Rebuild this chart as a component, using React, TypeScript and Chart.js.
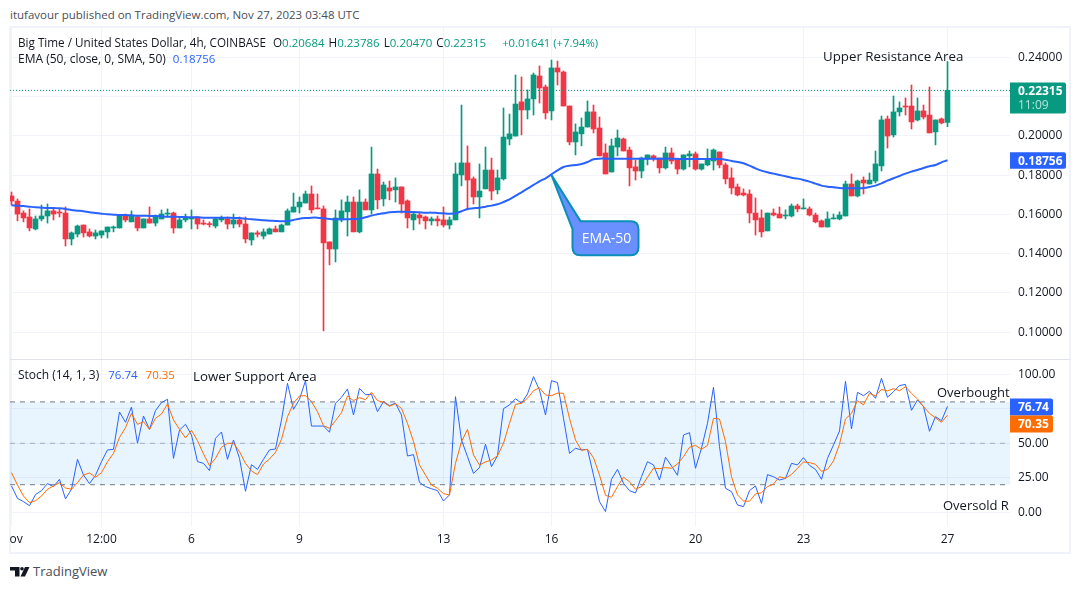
import { useEffect, useRef } from "react";
import { Chart, registerables } from "chart.js";

Chart.register(...registerables);

const FONT = "'Open Sans', sans-serif";
const INK = "#131722";

// x axis is the candle index, 4h bars
const xTickIdx = [0, 15, 30, 48, 72, 90, 114, 132, 156];
const xTickLabels = ["Nov", "12:00", "6", "9", "13", "16", "20", "23", "27"];
const priceTicks = [0.1, 0.12, 0.14, 0.16, 0.18, 0.2, 0.22, 0.24];
const stochTicks = [0, 25, 50, 75, 100];

const opens = [
  0.1694, 0.1668, 0.1607, 0.1587, 0.1526, 0.1577, 0.1592, 0.1618, 0.1612, 0.1607,
  0.1475, 0.15, 0.1546, 0.1511, 0.149, 0.1495, 0.1511, 0.1531, 0.1531, 0.1592,
  0.1562, 0.1587, 0.1531, 0.1577, 0.1556, 0.1577, 0.1602, 0.1607, 0.1531, 0.1572,
  0.1577, 0.1587, 0.1556, 0.1553, 0.1541, 0.1572, 0.1577, 0.1551, 0.1572, 0.1551,
  0.147, 0.1506, 0.149, 0.15, 0.1526, 0.1511, 0.1546, 0.1612, 0.1638, 0.1658,
  0.1704, 0.1633, 0.1628, 0.146, 0.1424, 0.1572, 0.1613, 0.1663, 0.1511, 0.1663,
  0.1623, 0.1806, 0.1679, 0.1735, 0.1725, 0.174, 0.1669, 0.1572, 0.1597, 0.1587,
  0.1567, 0.1577, 0.1572, 0.1546, 0.1572, 0.1801, 0.1862, 0.1781, 0.1689, 0.173,
  0.1826, 0.1725, 0.1781, 0.1984, 0.1999, 0.2173, 0.2132, 0.2188, 0.2305, 0.2249,
  0.2127, 0.2346, 0.2325, 0.2152, 0.1969, 0.201, 0.2045, 0.2122, 0.204, 0.1913,
  0.1816, 0.1943, 0.1984, 0.1928, 0.1842, 0.1821, 0.1882, 0.1898, 0.1887, 0.1837,
  0.1913, 0.1882, 0.1831, 0.1898, 0.1908, 0.1831, 0.1852, 0.1872, 0.1918, 0.1852,
  0.1786, 0.174, 0.1709, 0.1704, 0.1607, 0.1582, 0.1516, 0.1607, 0.1602, 0.1592,
  0.1592, 0.1643, 0.1628, 0.1628, 0.1597, 0.1567, 0.1536, 0.1577, 0.1577, 0.1592,
  0.1755, 0.1694, 0.1775, 0.1755, 0.177, 0.1847, 0.2086, 0.2005, 0.2122, 0.2152,
  0.2152, 0.2081, 0.2127, 0.2106, 0.202, 0.2086, 0.20684,
];
const highs = [
  0.1714, 0.1679, 0.1618, 0.1628, 0.1592, 0.1648, 0.1653, 0.1633, 0.1628, 0.1638,
  0.1511, 0.1546, 0.1546, 0.1526, 0.1521, 0.1516, 0.1536, 0.1541, 0.1597, 0.1602,
  0.1618, 0.1592, 0.1577, 0.1638, 0.1597, 0.1623, 0.1628, 0.1612, 0.1582, 0.1602,
  0.1623, 0.1587, 0.1572, 0.1562, 0.1582, 0.1592, 0.1587, 0.1602, 0.1587, 0.1587,
  0.1506, 0.1516, 0.1526, 0.1531, 0.1541, 0.1551, 0.1628, 0.1709, 0.1689, 0.1719,
  0.1745, 0.1704, 0.1643, 0.146, 0.1623, 0.1674, 0.1694, 0.1689, 0.1725, 0.1679,
  0.1943, 0.1831, 0.1765, 0.177, 0.1786, 0.174, 0.1674, 0.1606, 0.1607, 0.1592,
  0.1587, 0.1592, 0.1638, 0.1587, 0.1862, 0.2157, 0.1949, 0.1791, 0.1857, 0.1943,
  0.1887, 0.1826, 0.2142, 0.2111, 0.231, 0.23, 0.2234, 0.232, 0.2356, 0.2259,
  0.2386, 0.2381, 0.233, 0.2152, 0.2061, 0.2091, 0.2178, 0.2157, 0.2096, 0.1959,
  0.1984, 0.203, 0.1989, 0.1943, 0.1877, 0.1892, 0.1903, 0.1903, 0.1887, 0.1943,
  0.1938, 0.1887, 0.1903, 0.1923, 0.1918, 0.1857, 0.1933, 0.1933, 0.1918, 0.1862,
  0.1837, 0.1755, 0.173, 0.1725, 0.1684, 0.1623, 0.1607, 0.1628, 0.1638, 0.1623,
  0.1653, 0.1653, 0.1679, 0.1638, 0.1607, 0.1572, 0.1613, 0.1602, 0.1613, 0.177,
  0.1806, 0.1775, 0.1791, 0.1811, 0.1923, 0.2101, 0.2101, 0.2203, 0.2173, 0.2193,
  0.2259, 0.2193, 0.2157, 0.2249, 0.2081, 0.2091, 0.23786,
];
const lows = [
  0.1648, 0.1567, 0.1562, 0.1516, 0.1521, 0.1567, 0.1556, 0.1572, 0.1587, 0.1439,
  0.1444, 0.1485, 0.1485, 0.1485, 0.1475, 0.148, 0.148, 0.1511, 0.1531, 0.1562,
  0.1562, 0.1516, 0.1531, 0.1556, 0.1541, 0.1577, 0.1587, 0.1505, 0.1531, 0.1562,
  0.1526, 0.1526, 0.1546, 0.1536, 0.1531, 0.1562, 0.1526, 0.1531, 0.1536, 0.1455,
  0.1444, 0.1485, 0.1475, 0.15, 0.1511, 0.1511, 0.1546, 0.1612, 0.1607, 0.1658,
  0.1607, 0.1628, 0.1007, 0.1343, 0.1358, 0.1562, 0.149, 0.1511, 0.1506, 0.1623,
  0.1602, 0.1628, 0.1643, 0.1674, 0.1663, 0.1607, 0.1531, 0.1521, 0.1551, 0.1526,
  0.1546, 0.1541, 0.1536, 0.1526, 0.1572, 0.1745, 0.1623, 0.1653, 0.1582, 0.173,
  0.1674, 0.1704, 0.1775, 0.1954, 0.1999, 0.2005, 0.2086, 0.2106, 0.2167, 0.2086,
  0.2081, 0.2259, 0.2152, 0.1954, 0.1903, 0.1949, 0.2045, 0.2015, 0.1898, 0.1806,
  0.1816, 0.1898, 0.1923, 0.1745, 0.1775, 0.1786, 0.1852, 0.1872, 0.1811, 0.1831,
  0.1857, 0.1806, 0.1826, 0.1842, 0.1826, 0.1826, 0.1847, 0.1826, 0.1837, 0.1755,
  0.1704, 0.1694, 0.1694, 0.1557, 0.1495, 0.1485, 0.1516, 0.1592, 0.1582, 0.1577,
  0.1587, 0.1613, 0.1628, 0.1592, 0.1557, 0.1536, 0.1536, 0.1577, 0.1572, 0.1592,
  0.1694, 0.1689, 0.1704, 0.1755, 0.176, 0.1821, 0.1938, 0.1994, 0.2101, 0.2106,
  0.2035, 0.2076, 0.2086, 0.2015, 0.1954, 0.2061, 0.2047,
];
const closes = [
  0.1668, 0.1602, 0.1582, 0.1531, 0.1577, 0.1592, 0.1618, 0.1602, 0.1607, 0.1475,
  0.1506, 0.1541, 0.1506, 0.149, 0.1506, 0.1516, 0.1536, 0.1536, 0.1592, 0.1572,
  0.1592, 0.1531, 0.1577, 0.1556, 0.1592, 0.1602, 0.1607, 0.1531, 0.1572, 0.1582,
  0.1582, 0.1551, 0.1551, 0.1548, 0.1577, 0.1582, 0.1551, 0.1572, 0.1551, 0.1475,
  0.1506, 0.1499, 0.1511, 0.1526, 0.1511, 0.1546, 0.1618, 0.1638, 0.1663, 0.1704,
  0.1623, 0.1628, 0.1455, 0.1424, 0.1582, 0.1618, 0.1663, 0.1511, 0.1663, 0.1623,
  0.1806, 0.1674, 0.175, 0.1719, 0.174, 0.1653, 0.1582, 0.1602, 0.1582, 0.1567,
  0.1577, 0.1567, 0.1546, 0.1572, 0.1806, 0.1862, 0.1775, 0.1689, 0.1719, 0.1826,
  0.1719, 0.1786, 0.1994, 0.201, 0.2162, 0.2132, 0.2188, 0.231, 0.2244, 0.2117,
  0.2346, 0.2325, 0.2152, 0.1969, 0.202, 0.2045, 0.2122, 0.2035, 0.1898, 0.1806,
  0.1949, 0.1989, 0.1923, 0.1837, 0.1821, 0.1887, 0.1903, 0.1887, 0.1837, 0.1913,
  0.1872, 0.1831, 0.1903, 0.1908, 0.1831, 0.1857, 0.1877, 0.1928, 0.1852, 0.1781,
  0.1735, 0.1699, 0.1699, 0.1607, 0.1572, 0.1511, 0.1607, 0.1597, 0.1582, 0.1597,
  0.1643, 0.1628, 0.1633, 0.1597, 0.1562, 0.1536, 0.1577, 0.1582, 0.1597, 0.1755,
  0.1694, 0.177, 0.176, 0.1775, 0.1857, 0.2081, 0.1999, 0.2122, 0.2142, 0.2147,
  0.2071, 0.2127, 0.2096, 0.2015, 0.2081, 0.2066, 0.22315,
];
const ema50 = [
  0.16463, 0.16446, 0.16429, 0.16395, 0.16361, 0.16344, 0.16327, 0.16327, 0.1631, 0.16277,
  0.16226, 0.16192, 0.16158, 0.16107, 0.16073, 0.16039, 0.16005, 0.15988, 0.15971, 0.15971,
  0.15954, 0.15937, 0.15937, 0.1592, 0.1592, 0.15903, 0.15886, 0.15886, 0.15869, 0.15869,
  0.15852, 0.15852, 0.15835, 0.15835, 0.15835, 0.15835, 0.15835, 0.15818, 0.15818, 0.15784,
  0.1575, 0.15733, 0.157, 0.15683, 0.15666, 0.15649, 0.15666, 0.15717, 0.15784, 0.15818,
  0.15835, 0.15835, 0.15801, 0.15767, 0.1575, 0.15751, 0.15751, 0.15768, 0.15785, 0.15853,
  0.15938, 0.16006, 0.16057, 0.16108, 0.16125, 0.16142, 0.16125, 0.16125, 0.16108, 0.16091,
  0.16091, 0.16074, 0.16057, 0.1604, 0.16057, 0.16159, 0.16277, 0.16311, 0.16345, 0.16396,
  0.16447, 0.16515, 0.16634, 0.16769, 0.16939, 0.17126, 0.17313, 0.17499, 0.17686, 0.17839,
  0.18042, 0.18246, 0.18416, 0.18483, 0.18517, 0.18568, 0.1867, 0.18806, 0.1884, 0.1884,
  0.1884, 0.1884, 0.1884, 0.1884, 0.1884, 0.1884, 0.1884, 0.1884, 0.1884, 0.1884,
  0.1884, 0.18823, 0.18823, 0.18823, 0.18823, 0.18823, 0.18823, 0.18823, 0.18823, 0.18789,
  0.18721, 0.1867, 0.18602, 0.18483, 0.18348, 0.18229, 0.18144, 0.18076, 0.18008, 0.1794,
  0.17872, 0.17822, 0.17754, 0.17669, 0.17567, 0.17465, 0.17414, 0.1738, 0.17346, 0.17329,
  0.17329, 0.17329, 0.17346, 0.17397, 0.17465, 0.17584, 0.1772, 0.17839, 0.17957, 0.18076,
  0.18178, 0.18263, 0.18365, 0.1845, 0.18517, 0.18653, 0.18756,
];
const stochK = [
  19.1, 10.1, 7.7, 4.8, 12.8, 15.7, 20.8, 18.6, 23.9, 9.7,
  16.7, 38.4, 27.0, 20.8, 26.8, 36.7, 45.2, 45.6, 72.7, 65.2,
  76.3, 50.0, 69.8, 60.1, 73.7, 79.5, 81.9, 39.1, 59.6, 63.8,
  56.0, 36.7, 35.5, 30.2, 53.6, 58.2, 38.4, 52.4, 39.1, 15.2,
  34.5, 31.1, 38.4, 45.2, 45.9, 66.9, 93.5, 74.6, 81.9, 95.4,
  62.5, 62.5, 62.5, 58.0, 79.0, 83.3, 89.4, 70.5, 89.8, 85.2,
  85.5, 72.9, 80.2, 77.3, 79.0, 70.5, 40.8, 41.8, 21.7, 18.6,
  17.1, 15.7, 8.2, 12.6, 83.8, 52.4, 40.3, 28.2, 32.4, 49.3,
  33.1, 41.0, 75.1, 77.8, 82.3, 79.0, 85.7, 98.3, 88.6, 70.5,
  95.4, 94.0, 68.1, 42.7, 46.4, 45.2, 45.6, 27.0, 7.7, 0.5,
  23.9, 31.1, 21.0, 15.7, 14.0, 25.8, 36.7, 34.3, 23.4, 39.9,
  33.6, 26.8, 56.0, 57.7, 31.9, 46.4, 64.5, 90.6, 47.6, 17.4,
  15.0, 5.3, 4.1, 15.7, 19.1, 6.5, 27.3, 25.8, 23.4, 24.6,
  35.5, 34.3, 39.6, 34.0, 31.1, 23.9, 39.1, 48.8, 58.9, 94.9,
  60.4, 86.9, 84.5, 87.7, 82.6, 97.1, 83.3, 87.4, 91.8, 92.7,
  73.9, 81.4, 76.6, 58.7, 69.3, 66.4, 76.74,
];
const stochD = [
  28.7, 19.8, 11.8, 7.0, 8.4, 11.8, 16.7, 19.1, 21.5, 17.6,
  16.7, 21.5, 27.0, 28.5, 25.4, 28.7, 36.7, 42.7, 54.3, 61.3,
  71.7, 63.7, 65.7, 60.1, 68.1, 71.2, 78.5, 66.9, 60.1, 53.9,
  59.4, 51.9, 42.3, 33.8, 39.1, 47.1, 50.0, 50.0, 44.0, 35.5,
  29.9, 27.3, 35.0, 38.6, 43.5, 52.9, 69.3, 79.0, 84.3, 84.5,
  80.2, 72.9, 62.8, 60.9, 66.4, 72.2, 84.3, 80.9, 83.1, 81.6,
  87.0, 80.9, 79.7, 76.8, 78.7, 75.3, 64.5, 51.2, 34.3, 27.0,
  19.8, 17.4, 13.5, 12.6, 35.5, 51.2, 60.1, 41.5, 34.3, 36.5,
  37.9, 41.0, 50.0, 64.5, 78.2, 79.0, 82.6, 88.1, 90.3, 85.0,
  84.5, 86.4, 86.2, 68.1, 52.4, 44.9, 45.6, 39.6, 27.0, 12.3,
  10.9, 18.6, 25.4, 22.2, 16.7, 18.6, 25.4, 31.9, 31.6, 32.4,
  31.9, 35.0, 40.3, 47.1, 48.5, 45.6, 48.5, 68.1, 67.6, 51.2,
  25.8, 12.6, 8.2, 8.0, 13.3, 14.2, 18.6, 20.5, 25.8, 24.6,
  27.5, 31.9, 36.5, 36.0, 34.8, 29.7, 31.1, 37.2, 49.3, 67.6,
  71.7, 80.9, 77.8, 86.2, 84.3, 89.1, 87.9, 89.6, 88.1, 91.0,
  86.2, 82.1, 76.6, 71.7, 68.4, 65.2, 70.35,
];

const lastClose = 0.22315;
const lastEma = 0.18756;
const lastK = 76.74;
const lastD = 70.35;
const countdown = "11:09";

const GREEN = "#089981";
const RED = "#F23645";
const BLUE = "#2962FF";
const ORANGE = "#FF6D00";
const GRID = "#f0f3fa";

const X_MIN = -0.25;
const X_MAX = 166.4167;

const candleColors = closes.map((c, i) => (c >= opens[i] ? GREEN : RED));

function xScaleBase(showLabels: boolean) {
  return {
    type: "linear" as const,
    min: X_MIN,
    max: X_MAX,
    offset: false,
    afterBuildTicks: (s: any) => {
      s.ticks = xTickIdx.map((value) => ({ value }));
    },
    afterFit: (s: any) => {
      s.paddingLeft = 0;
      s.paddingRight = 0;
      s.height = showLabels ? 27 : 0;
    },
    border: { display: false },
    grid: { color: GRID, drawTicks: false, offset: false },
    ticks: {
      display: showLabels,
      autoSkip: false,
      maxRotation: 0,
      padding: 6,
      color: INK,
      font: { family: FONT, size: 12 },
      callback: (_v: any, i: number) => xTickLabels[i],
    },
  };
}

function yScaleBase(min: number, max: number, tickList: number[], digits: number) {
  return {
    position: "right" as const,
    min,
    max,
    afterBuildTicks: (s: any) => {
      s.ticks = tickList.map((value) => ({ value }));
    },
    afterFit: (s: any) => {
      s.width = 60;
      s.paddingTop = 0;
      s.paddingBottom = 0;
    },
    border: { display: false },
    grid: { color: GRID, drawTicks: false },
    ticks: {
      padding: 8,
      color: INK,
      font: { family: FONT, size: 12 },
      callback: (v: any) => Number(v).toFixed(digits),
    },
  };
}

function drawTag(ctx: CanvasRenderingContext2D, x: number, y: number, w: number, h: number, color: string) {
  ctx.fillStyle = color;
  ctx.beginPath();
  ctx.roundRect(x, y, w, h, [0, 2, 2, 0]);
  ctx.fill();
}

const priceOverlay = {
  id: "priceOverlay",
  afterDraw(chart: any) {
    const { ctx, chartArea, scales } = chart;
    const right = chartArea.right;

    // EMA-50 callout, tip sits on the EMA at the "16" bar
    const tipX = scales.x.getPixelForValue(90);
    const tipY = scales.y.getPixelForValue(0.18);
    const bx = tipX + 21;
    const by = tipY + 46;
    const bw = 66;
    const bh = 34;
    const r = 8;
    ctx.save();
    ctx.beginPath();
    ctx.moveTo(tipX, tipY);
    ctx.lineTo(bx + 8, by);
    ctx.lineTo(bx + bw - r, by);
    ctx.quadraticCurveTo(bx + bw, by, bx + bw, by + r);
    ctx.lineTo(bx + bw, by + bh - r);
    ctx.quadraticCurveTo(bx + bw, by + bh, bx + bw - r, by + bh);
    ctx.lineTo(bx + r, by + bh);
    ctx.quadraticCurveTo(bx, by + bh, bx, by + bh - r);
    ctx.lineTo(bx, by + 8);
    ctx.closePath();
    ctx.fillStyle = "#6a8fff";
    ctx.fill();
    ctx.lineWidth = 2;
    ctx.strokeStyle = "#0b8fb8";
    ctx.stroke();
    ctx.fillStyle = "#ffffff";
    ctx.font = `14px ${FONT}`;
    ctx.textAlign = "center";
    ctx.textBaseline = "middle";
    ctx.fillText("EMA-50", bx + bw / 2 + 1, by + bh / 2 + 1);

    // last price + countdown
    const closeY = scales.y.getPixelForValue(lastClose);
    drawTag(ctx, right, closeY - 8, 56, 31, GREEN);
    ctx.textAlign = "left";
    ctx.font = `bold 12px ${FONT}`;
    ctx.fillStyle = "#ffffff";
    ctx.fillText(lastClose.toFixed(5), right + 8, closeY + 1);
    ctx.font = `12px ${FONT}`;
    ctx.fillStyle = "#b5e3da";
    ctx.fillText(countdown, right + 8, closeY + 15);

    // EMA value
    const emaY = scales.y.getPixelForValue(lastEma);
    drawTag(ctx, right, emaY - 8, 56, 16.5, BLUE);
    ctx.font = `bold 12px ${FONT}`;
    ctx.fillStyle = "#ffffff";
    ctx.fillText(lastEma.toFixed(5), right + 8, emaY + 1);
    ctx.restore();
  },
};

const stochOverlay = {
  id: "stochOverlay",
  afterDraw(chart: any) {
    const { ctx, chartArea, scales } = chart;
    const right = chartArea.right;
    const kY = scales.y.getPixelForValue(lastK);
    ctx.save();
    // tags are stacked, the orange one is pushed below the blue one
    drawTag(ctx, right, kY - 8, 43, 17, BLUE);
    drawTag(ctx, right, kY + 9, 43, 17, ORANGE);
    ctx.font = `bold 12px ${FONT}`;
    ctx.fillStyle = "#ffffff";
    ctx.textAlign = "left";
    ctx.textBaseline = "middle";
    ctx.fillText(lastK.toFixed(2), right + 8, kY + 1);
    ctx.fillText(lastD.toFixed(2), right + 8, kY + 18);
    ctx.restore();
  },
};

const labelStyle = (left: number, top: number, size = 13, color = INK): React.CSSProperties => ({
  position: "absolute",
  left,
  top,
  fontSize: size,
  lineHeight: "16px",
  color,
  whiteSpace: "nowrap",
});

const valueStyle = (gap: number, color: string): React.CSSProperties => ({ marginLeft: gap, color, fontSize: 11.5 });

export default function App() {
  const priceRef = useRef<HTMLCanvasElement | null>(null);
  const stochRef = useRef<HTMLCanvasElement | null>(null);

  useEffect(() => {
    if (!priceRef.current || !stochRef.current) return;

    const price = new Chart(priceRef.current, {
      type: "bar",
      data: {
        datasets: [
          {
            type: "line",
            label: "EMA 50",
            data: ema50.map((y, x) => ({ x, y })),
            borderColor: BLUE,
            borderWidth: 2,
            pointRadius: 0,
            tension: 0.3,
            order: 0,
          },
          {
            type: "line",
            label: "Last",
            data: [
              { x: X_MIN, y: lastClose },
              { x: X_MAX, y: lastClose },
            ],
            borderColor: GREEN,
            borderWidth: 1,
            borderDash: [1, 2],
            pointRadius: 0,
            order: 1,
          },
          {
            label: "Body",
            data: opens.map((o, x) => ({ x, y: [Math.min(o, closes[x]), Math.max(o, closes[x])] })),
            backgroundColor: candleColors,
            barThickness: 5,
            grouped: false,
            minBarLength: 1,
            order: 2,
          },
          {
            label: "Wick",
            data: lows.map((l, x) => ({ x, y: [l, highs[x]] })),
            backgroundColor: candleColors,
            barThickness: 1,
            grouped: false,
            order: 3,
          },
        ],
      } as any,
      options: {
        animation: false,
        responsive: false,
        events: [],
        layout: { padding: 0 },
        plugins: { legend: { display: false }, tooltip: { enabled: false } },
        scales: {
          x: xScaleBase(false),
          y: yScaleBase(0.08638, 0.25492, priceTicks, 5),
        },
      } as any,
      plugins: [priceOverlay],
    });

    const stoch = new Chart(stochRef.current, {
      type: "line",
      data: {
        datasets: [
          {
            label: "%K",
            data: stochK.map((y, x) => ({ x, y })),
            borderColor: BLUE,
            borderWidth: 1,
            pointRadius: 0,
            order: 1,
          },
          {
            label: "%D",
            data: stochD.map((y, x) => ({ x, y })),
            borderColor: ORANGE,
            borderWidth: 1,
            pointRadius: 0,
            order: 0,
          },
          {
            label: "Upper band",
            data: [
              { x: X_MIN, y: 80 },
              { x: X_MAX, y: 80 },
            ],
            borderColor: "#787B86",
            borderWidth: 1,
            borderDash: [5, 5],
            pointRadius: 0,
            fill: { value: 20 },
            backgroundColor: "rgba(33,150,243,0.1)",
            order: 3,
          },
          {
            label: "Middle band",
            data: [
              { x: X_MIN, y: 50 },
              { x: X_MAX, y: 50 },
            ],
            borderColor: "rgba(120,123,134,0.55)",
            borderWidth: 1,
            borderDash: [5, 5],
            pointRadius: 0,
            order: 3,
          },
          {
            label: "Lower band",
            data: [
              { x: X_MIN, y: 20 },
              { x: X_MAX, y: 20 },
            ],
            borderColor: "#787B86",
            borderWidth: 1,
            borderDash: [5, 5],
            pointRadius: 0,
            order: 3,
          },
        ],
      } as any,
      options: {
        animation: false,
        responsive: false,
        events: [],
        layout: { padding: 0 },
        plugins: { legend: { display: false }, tooltip: { enabled: false } },
        scales: {
          x: xScaleBase(true),
          y: yScaleBase(-9.93, 110.36, stochTicks, 2),
        },
      } as any,
      plugins: [stochOverlay],
    });

    return () => {
      price.destroy();
      stoch.destroy();
    };
  }, []);

  return (
    <div style={{ position: "absolute", left: 0, top: 0, width: 1080, height: 589, background: "#fff", fontFamily: FONT, overflow: "hidden" }}>
      <div style={labelStyle(10, 7, 11.5, "#4a4e59")}>itufavour published on TradingView.com, Nov 27, 2023 03:48 UTC</div>

      <div style={{ position: "absolute", left: 9, top: 26, width: 1062, height: 528, boxSizing: "border-box", border: `2px solid ${GRID}` }} />
      <div style={{ position: "absolute", left: 10, top: 359, width: 1060, height: 1, background: "#e0e3eb" }} />

      <canvas ref={priceRef} width={1060} height={331} style={{ position: "absolute", left: 10, top: 28 }} />
      <canvas ref={stochRef} width={1060} height={193} style={{ position: "absolute", left: 10, top: 360 }} />

      <div style={labelStyle(18, 34, 11.7)}>
        Big Time / United States Dollar, 4h, COINBASE
        <span style={{ marginLeft: 7 }}>O</span>
        <span style={{ color: GREEN, fontSize: 11.5 }}>0.20684</span>
        <span style={{ marginLeft: 4 }}>H</span>
        <span style={{ color: GREEN, fontSize: 11.5 }}>0.23786</span>
        <span style={{ marginLeft: 4 }}>L</span>
        <span style={{ color: GREEN, fontSize: 11.5 }}>0.20470</span>
        <span style={{ marginLeft: 4 }}>C</span>
        <span style={{ color: GREEN, fontSize: 11.5 }}>0.22315</span>
        <span style={{ marginLeft: 16, color: GREEN, fontSize: 11.3 }}>+0.01641 (+7.94%)</span>
      </div>
      <div style={labelStyle(18, 51, 12)}>
        EMA (50, close, 0, SMA, 50)
        <span style={valueStyle(7, BLUE)}>0.18756</span>
      </div>
      <div style={labelStyle(18, 367, 12)}>
        Stoch (14, 1, 3)
        <span style={valueStyle(9, BLUE)}>76.74</span>
        <span style={valueStyle(8, ORANGE)}>70.35</span>
      </div>

      <div style={labelStyle(823, 48, 13.3)}>Upper Resistance Area</div>
      <div style={labelStyle(193, 368, 13.3)}>Lower Support Area</div>
      <div style={labelStyle(937, 384, 13)}>Overbought</div>
      <div style={labelStyle(943, 497, 13)}>Oversold R</div>

      <svg width="20" height="10" viewBox="0 0 20 10" style={{ position: "absolute", left: 10, top: 566.5 }}>
        <path d="M0 0H9.5V9.5H5V3.6H0Z" fill={INK} />
        <circle cx="12" cy="1.8" r="1.8" fill={INK} />
        <path d="M15 0H19.5L15 9.5H10.5Z" fill={INK} />
      </svg>
      <div style={labelStyle(33, 563, 13, "#4a4e59")}>TradingView</div>
    </div>
  );
}
